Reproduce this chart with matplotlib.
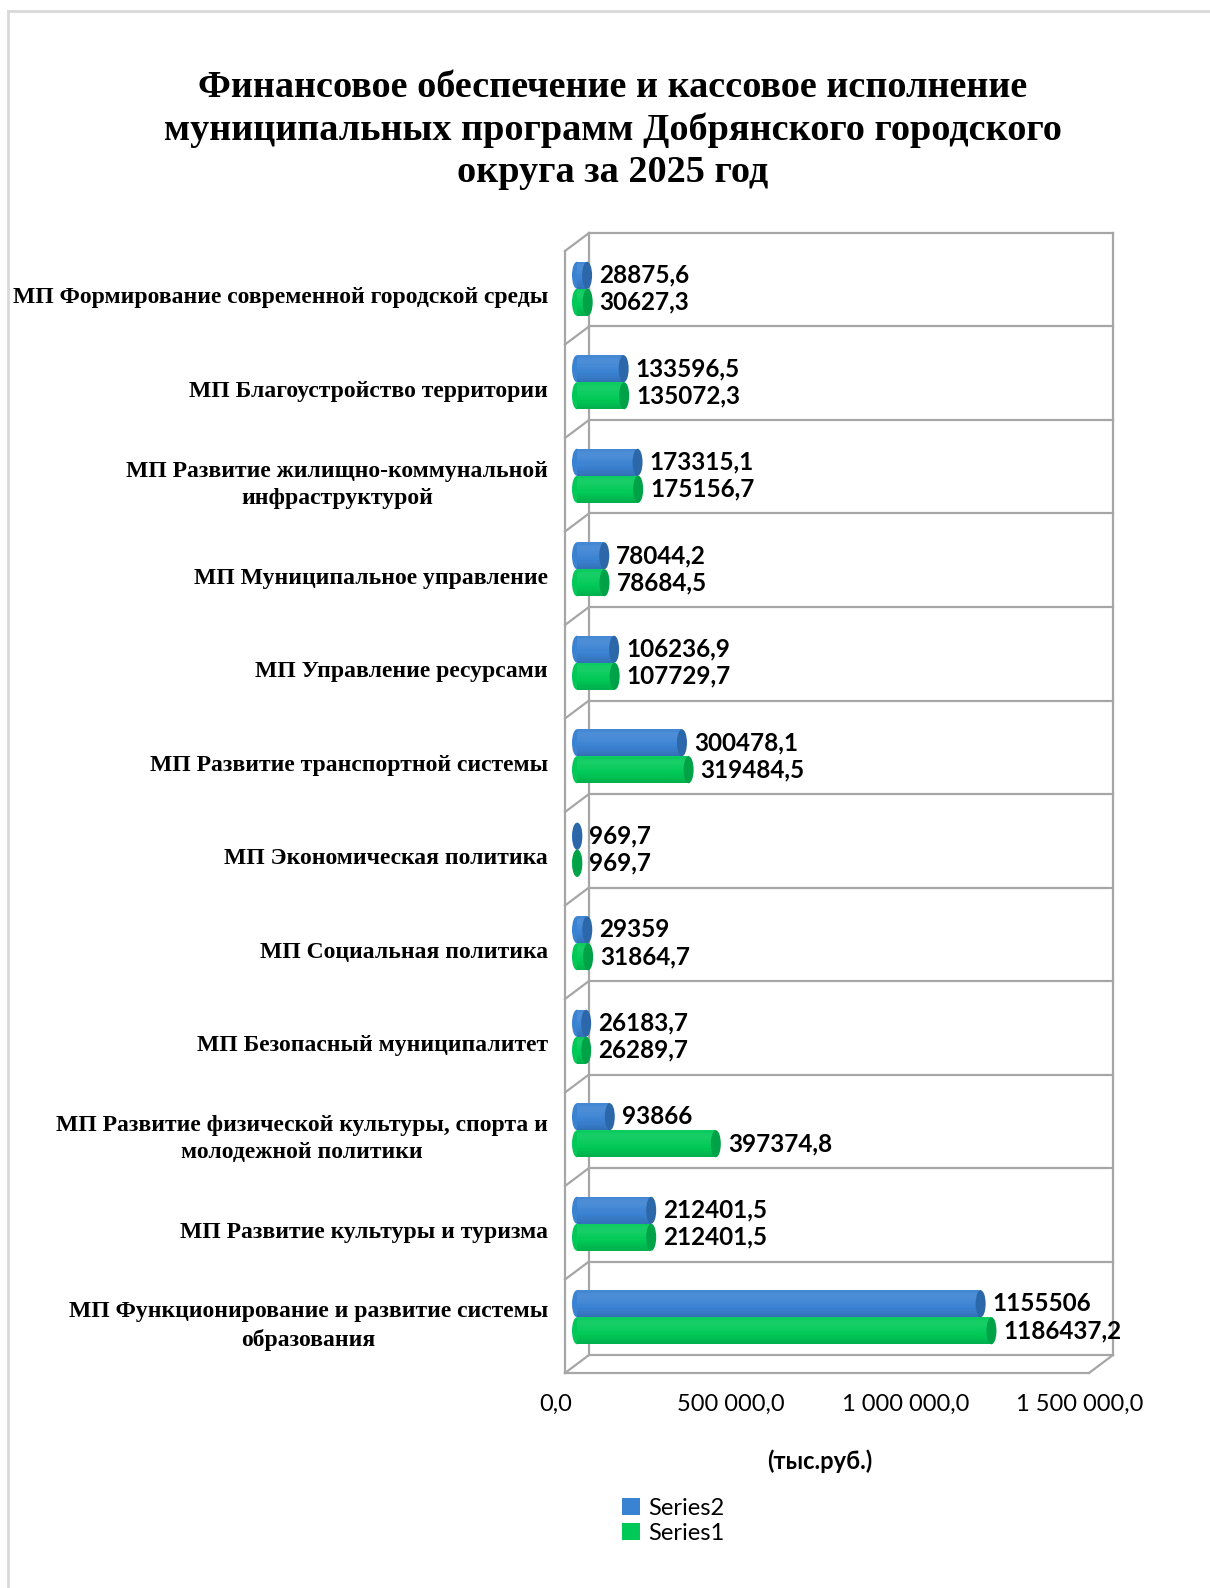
import matplotlib
matplotlib.use('Agg')
from matplotlib import pyplot as plt
from matplotlib.patches import Ellipse, Patch
from matplotlib.lines import Line2D
import numpy as np

categories = ['МП Формирование современной городской среды',
              'МП Благоустройство территории',
              'МП Развитие жилищно-коммунальной\nинфраструктурой',
              'МП Муниципальное управление',
              'МП Управление ресурсами',
              'МП Развитие транспортной системы',
              'МП Экономическая политика',
              'МП Социальная политика',
              'МП Безопасный муниципалитет',
              'МП Развитие физической культуры, спорта и\nмолодежной политики',
              'МП Развитие культуры и туризма',
              'МП Функционирование и развитие системы\nобразования']
series2 = [28875.6, 133596.5, 173315.1, 78044.2, 106236.9, 300478.1,
           969.7, 29359, 26183.7, 93866, 212401.5, 1155506]
series1 = [30627.3, 135072.3, 175156.7, 78684.5, 107729.7, 319484.5,
           969.7, 31864.7, 26289.7, 397374.8, 212401.5, 1186437.2]
xticks = [0, 500000, 1000000, 1500000]
xtick_labels = ['0,0', '500 000,0', '1 000 000,0', '1 500 000,0']
title = ('Финансовое обеспечение и кассовое исполнение\n'
         'муниципальных программ Добрянского городского\n'
         'округа за 2025 год')

W, H = 1210, 1588
fig = plt.figure(figsize=(W / 100, H / 100), dpi=100)
fig.patch.set_facecolor('white')

# front plane of the 3d box in pixels
x0, x1 = 565, 1089
ytop, ybot = 251, 1373
ax = fig.add_axes([x0 / W, 1 - ybot / H, (x1 - x0) / W, (ybot - ytop) / H])
ax.set_axis_off()
n = len(categories)
ax.set_xlim(0, 1500000)
ax.set_ylim(-0.5, n - 0.5)

px_x = (x1 - x0) / 1500000.0
px_y = (ybot - ytop) / n
DX = 24 / px_x   # depth offset in data units
DY = 18 / px_y

gc = '#a6a6a6'
lw = 1.6
xmax = 1500000
# back wall + left wall
for k in range(n + 1):
    yb = k - 0.5
    ax.plot([DX, xmax + DX], [yb + DY, yb + DY], color=gc, lw=lw, clip_on=False)
    ax.plot([0, DX], [yb, yb + DY], color=gc, lw=lw, clip_on=False)
ax.plot([DX, DX], [-0.5 + DY, n - 0.5 + DY], color=gc, lw=lw, clip_on=False)
ax.plot([xmax + DX, xmax + DX], [-0.5 + DY, n - 0.5 + DY], color=gc, lw=lw, clip_on=False)
ax.plot([0, 0], [-0.5, n - 0.5], color=gc, lw=lw, clip_on=False)
# floor
ax.plot([0, xmax], [-0.5, -0.5], color=gc, lw=lw, clip_on=False)
ax.plot([xmax, xmax + DX], [-0.5, -0.5 + DY], color=gc, lw=lw, clip_on=False)

blue, blue_d = '#3a82d2', '#2c67aa'
green, green_d = '#00c957', '#00a247'
bh = 27 / px_y
ew = 10 / px_x

ypos = np.arange(n)[::-1]


def shade(c, f):
    rgb = np.array(matplotlib.colors.to_rgb(c))
    if f > 0:
        return tuple(rgb + (1 - rgb) * f)
    return tuple(rgb * (1 + f))


def cylinder(v, yc, c, cd):
    xs, ys = DX / 2, yc + DY / 2
    ax.add_patch(Ellipse((xs, ys), ew, bh, facecolor=c, edgecolor='none', zorder=3))
    # soft vertical shading of the tube, light on top, darker at bottom
    fs = [-0.12, -0.09, -0.06, -0.03, 0.0, 0.02, 0.04, 0.06, 0.08, 0.09, 0.08, 0.05]
    hs = bh / len(fs)
    for j, f in enumerate(fs):
        ax.barh(ys - bh / 2 + hs * (j + 0.5), v, left=xs, height=hs * 1.05,
                color=shade(c, f), zorder=3, linewidth=0)
    ax.add_patch(Ellipse((xs + v, ys), ew, bh, facecolor=cd, edgecolor='none', zorder=4))


def fmt(v):
    if float(v).is_integer():
        return str(int(v))
    return ('%.1f' % v).replace('.', ',')


for i in range(n):
    yc = ypos[i]
    cylinder(series2[i], yc + bh / 2, blue, blue_d)
    cylinder(series1[i], yc - bh / 2, green, green_d)
    for v, yy in [(series2[i], yc + bh / 2), (series1[i], yc - bh / 2)]:
        ax.annotate(fmt(v), xy=(v + DX / 2, yy + DY / 2), xytext=(12, 0),
                    textcoords='offset pixels', ha='left', va='center',
                    fontsize=17.5, fontweight='bold', family='Lato', annotation_clip=False)
    ax.annotate(categories[i], xy=(0, yc), xytext=(-17, 0), textcoords='offset pixels',
                ha='right', va='center', multialignment='center', fontsize=17,
                fontweight='bold', family='Liberation Serif', linespacing=1.4,
                annotation_clip=False)

for v, lab in zip(xticks, xtick_labels):
    ax.annotate(lab, xy=(v, -0.5), xytext=(-9, -31), textcoords='offset pixels',
                ha='center', va='center', fontsize=17, family='Lato',
                annotation_clip=False)

fig.text(613 / W, 1 - 130 / H, title, ha='center', va='center', fontsize=27.5,
         fontweight='bold', family='Liberation Serif', linespacing=1.27)
fig.text(820 / W, 1 - 1461 / H, '(тыс.руб.)', ha='center', va='center',
         fontsize=17, fontweight='bold', family='Lato')

handles = [Patch(facecolor=blue, label='Series2'), Patch(facecolor=green, label='Series1')]
fig.legend(handles=handles, loc='upper left', bbox_to_anchor=(622 / W, 1 - 1498 / H),
           frameon=False, prop={'family': 'Lato', 'size': 17}, handlelength=0.75,
           handleheight=0.75, handletextpad=0.35, labelspacing=0.15, borderaxespad=0,
           borderpad=0)

# light frame around the chart
fig.add_artist(Line2D([8 / W, 1], [1 - 11 / H, 1 - 11 / H], color='#d9d9d9', lw=2,
                      transform=fig.transFigure))
fig.add_artist(Line2D([8 / W, 8 / W], [0, 1 - 11 / H], color='#d9d9d9', lw=2,
                      transform=fig.transFigure))

fig.savefig('out.png', dpi=100)
